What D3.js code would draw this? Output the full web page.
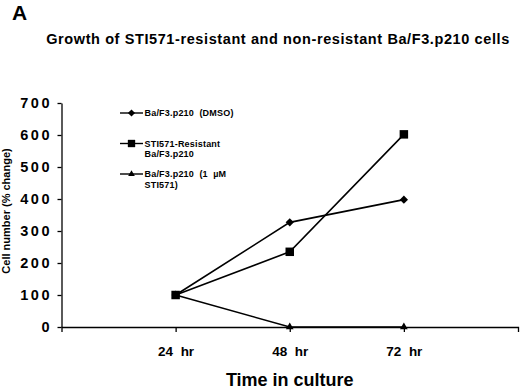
<!DOCTYPE html>
<html>
<head>
<meta charset="utf-8">
<script src="https://cdn.jsdelivr.net/npm/d3@7"></script>
<style>
  html, body { margin: 0; padding: 0; background: #fff; }
  svg { display: block; font-family: "Liberation Sans", Arial, sans-serif; font-weight: bold; }
</style>
</head>
<body>
<div id="chart"></div>
<script>
// time points (hours in culture) and % change of cell number
const HOURS = [24, 48, 72];
const DMSO = [100, 327, 398];
const RESISTANT = [100, 235, 602];
const STI_1UM = [100, 0, 0];
const Y_TICKS = [0, 100, 200, 300, 400, 500, 600, 700];
const SERIES_NAMES = [
  ['Ba/F3.p210  (DMSO)'],
  ['STI571-Resistant', 'Ba/F3.p210'],
  ['Ba/F3.p210  (1  µM', 'STI571)']
];

const W = 520, H = 389;
const X0 = 61.5, X1 = 518, Y0 = 327, YTOP = 103;

const svg = d3.select('#chart').append('svg')
  .attr('width', W)
  .attr('height', H);

const x = d3.scaleLinear().domain([0, 96]).range([X0, X1]);
const y = d3.scaleLinear().domain([0, 700]).range([Y0, YTOP]);

// panel letter + title
svg.append('text')
  .attr('x', 12).attr('y', 20)
  .attr('font-size', '21px')
  .text('A');

svg.append('text')
  .attr('x', 278).attr('y', 44)
  .attr('text-anchor', 'middle')
  .attr('font-size', '14.5px')
  .attr('letter-spacing', '0.6px')
  .text('Growth of STI571-resistant and non-resistant Ba/F3.p210 cells');

// axes
const yAxis = d3.axisLeft(y)
  .tickValues(Y_TICKS)
  .tickSize(4)
  .tickSizeOuter(0)
  .tickPadding(5.5);

const gy = svg.append('g')
  .attr('transform', `translate(${X0},0)`)
  .call(yAxis);
gy.selectAll('text')
  .attr('font-size', '14.5px')
  .attr('letter-spacing', '2.5px')
  .attr('fill', '#000');

const xAxis = d3.axisBottom(x)
  .tickValues(HOURS)
  .tickSize(5)
  .tickSizeOuter(5)
  .tickPadding(14)
  .tickFormat((d) => d + '  hr');

const gx = svg.append('g')
  .attr('transform', `translate(0,${Y0})`)
  .call(xAxis);
gx.selectAll('text')
  .attr('font-size', '13.5px')
  .style('white-space', 'pre')
  .attr('fill', '#000');

svg.selectAll('.domain, .tick line')
  .attr('stroke', '#000')
  .attr('stroke-width', 1.3);
svg.selectAll('g').attr('font-family', null);

// axis titles
svg.append('text')
  .attr('x', X0 + (X1 - X0) / 2).attr('y', 386)
  .attr('text-anchor', 'middle')
  .attr('font-size', '18px')
  .text('Time in culture');

svg.append('text')
  .attr('transform', `translate(10,211) rotate(-90)`)
  .attr('text-anchor', 'middle')
  .attr('font-size', '11px')
  .text('Cell number (% change)');

// series
const series = [
  { name: SERIES_NAMES[0], values: DMSO, symbol: d3.symbolSquare, size: 34, rotate: 45 },
  { name: SERIES_NAMES[2], values: STI_1UM, symbol: d3.symbolTriangle, size: 26, rotate: 0 },
  { name: SERIES_NAMES[1], values: RESISTANT, symbol: d3.symbolSquare, size: 72, rotate: 0 }
];

const line = d3.line()
  .x((d, i) => x(HOURS[i]))
  .y((d) => y(d));

for (const s of series) {
  svg.append('path')
    .datum(s.values)
    .attr('d', line)
    .attr('fill', 'none')
    .attr('stroke', '#000')
    .attr('stroke-width', 1.6);
}

for (const s of series) {
  svg.append('g')
    .selectAll('path')
    .data(s.values)
    .join('path')
    .attr('d', d3.symbol(s.symbol, s.size))
    .attr('transform', (d, i) => `translate(${x(HOURS[i])},${y(d)}) rotate(${s.rotate})`)
    .attr('fill', '#000');
}

// legend
const legendRows = [
  { s: series[0], y: 113 },
  { s: series[2], y: 143.5 },
  { s: series[1], y: 174 }
];
const lg = svg.append('g');
for (const r of legendRows) {
  lg.append('line')
    .attr('x1', 120).attr('x2', 143)
    .attr('y1', r.y).attr('y2', r.y)
    .attr('stroke', '#000')
    .attr('stroke-width', 1.4);
  lg.append('path')
    .attr('d', d3.symbol(r.s.symbol, r.s.size * 0.75))
    .attr('transform', `translate(131.5,${r.y}) rotate(${r.s.rotate})`)
    .attr('fill', '#000');
  r.s.name.forEach((t, k) => {
    lg.append('text')
      .attr('x', 144.5)
      .attr('y', r.y + 3.2 + k * 10.5)
      .attr('font-size', '9px')
      .attr('letter-spacing', '0.2px')
      .style('white-space', 'pre')
      .text(t);
  });
}
</script>
</body>
</html>
